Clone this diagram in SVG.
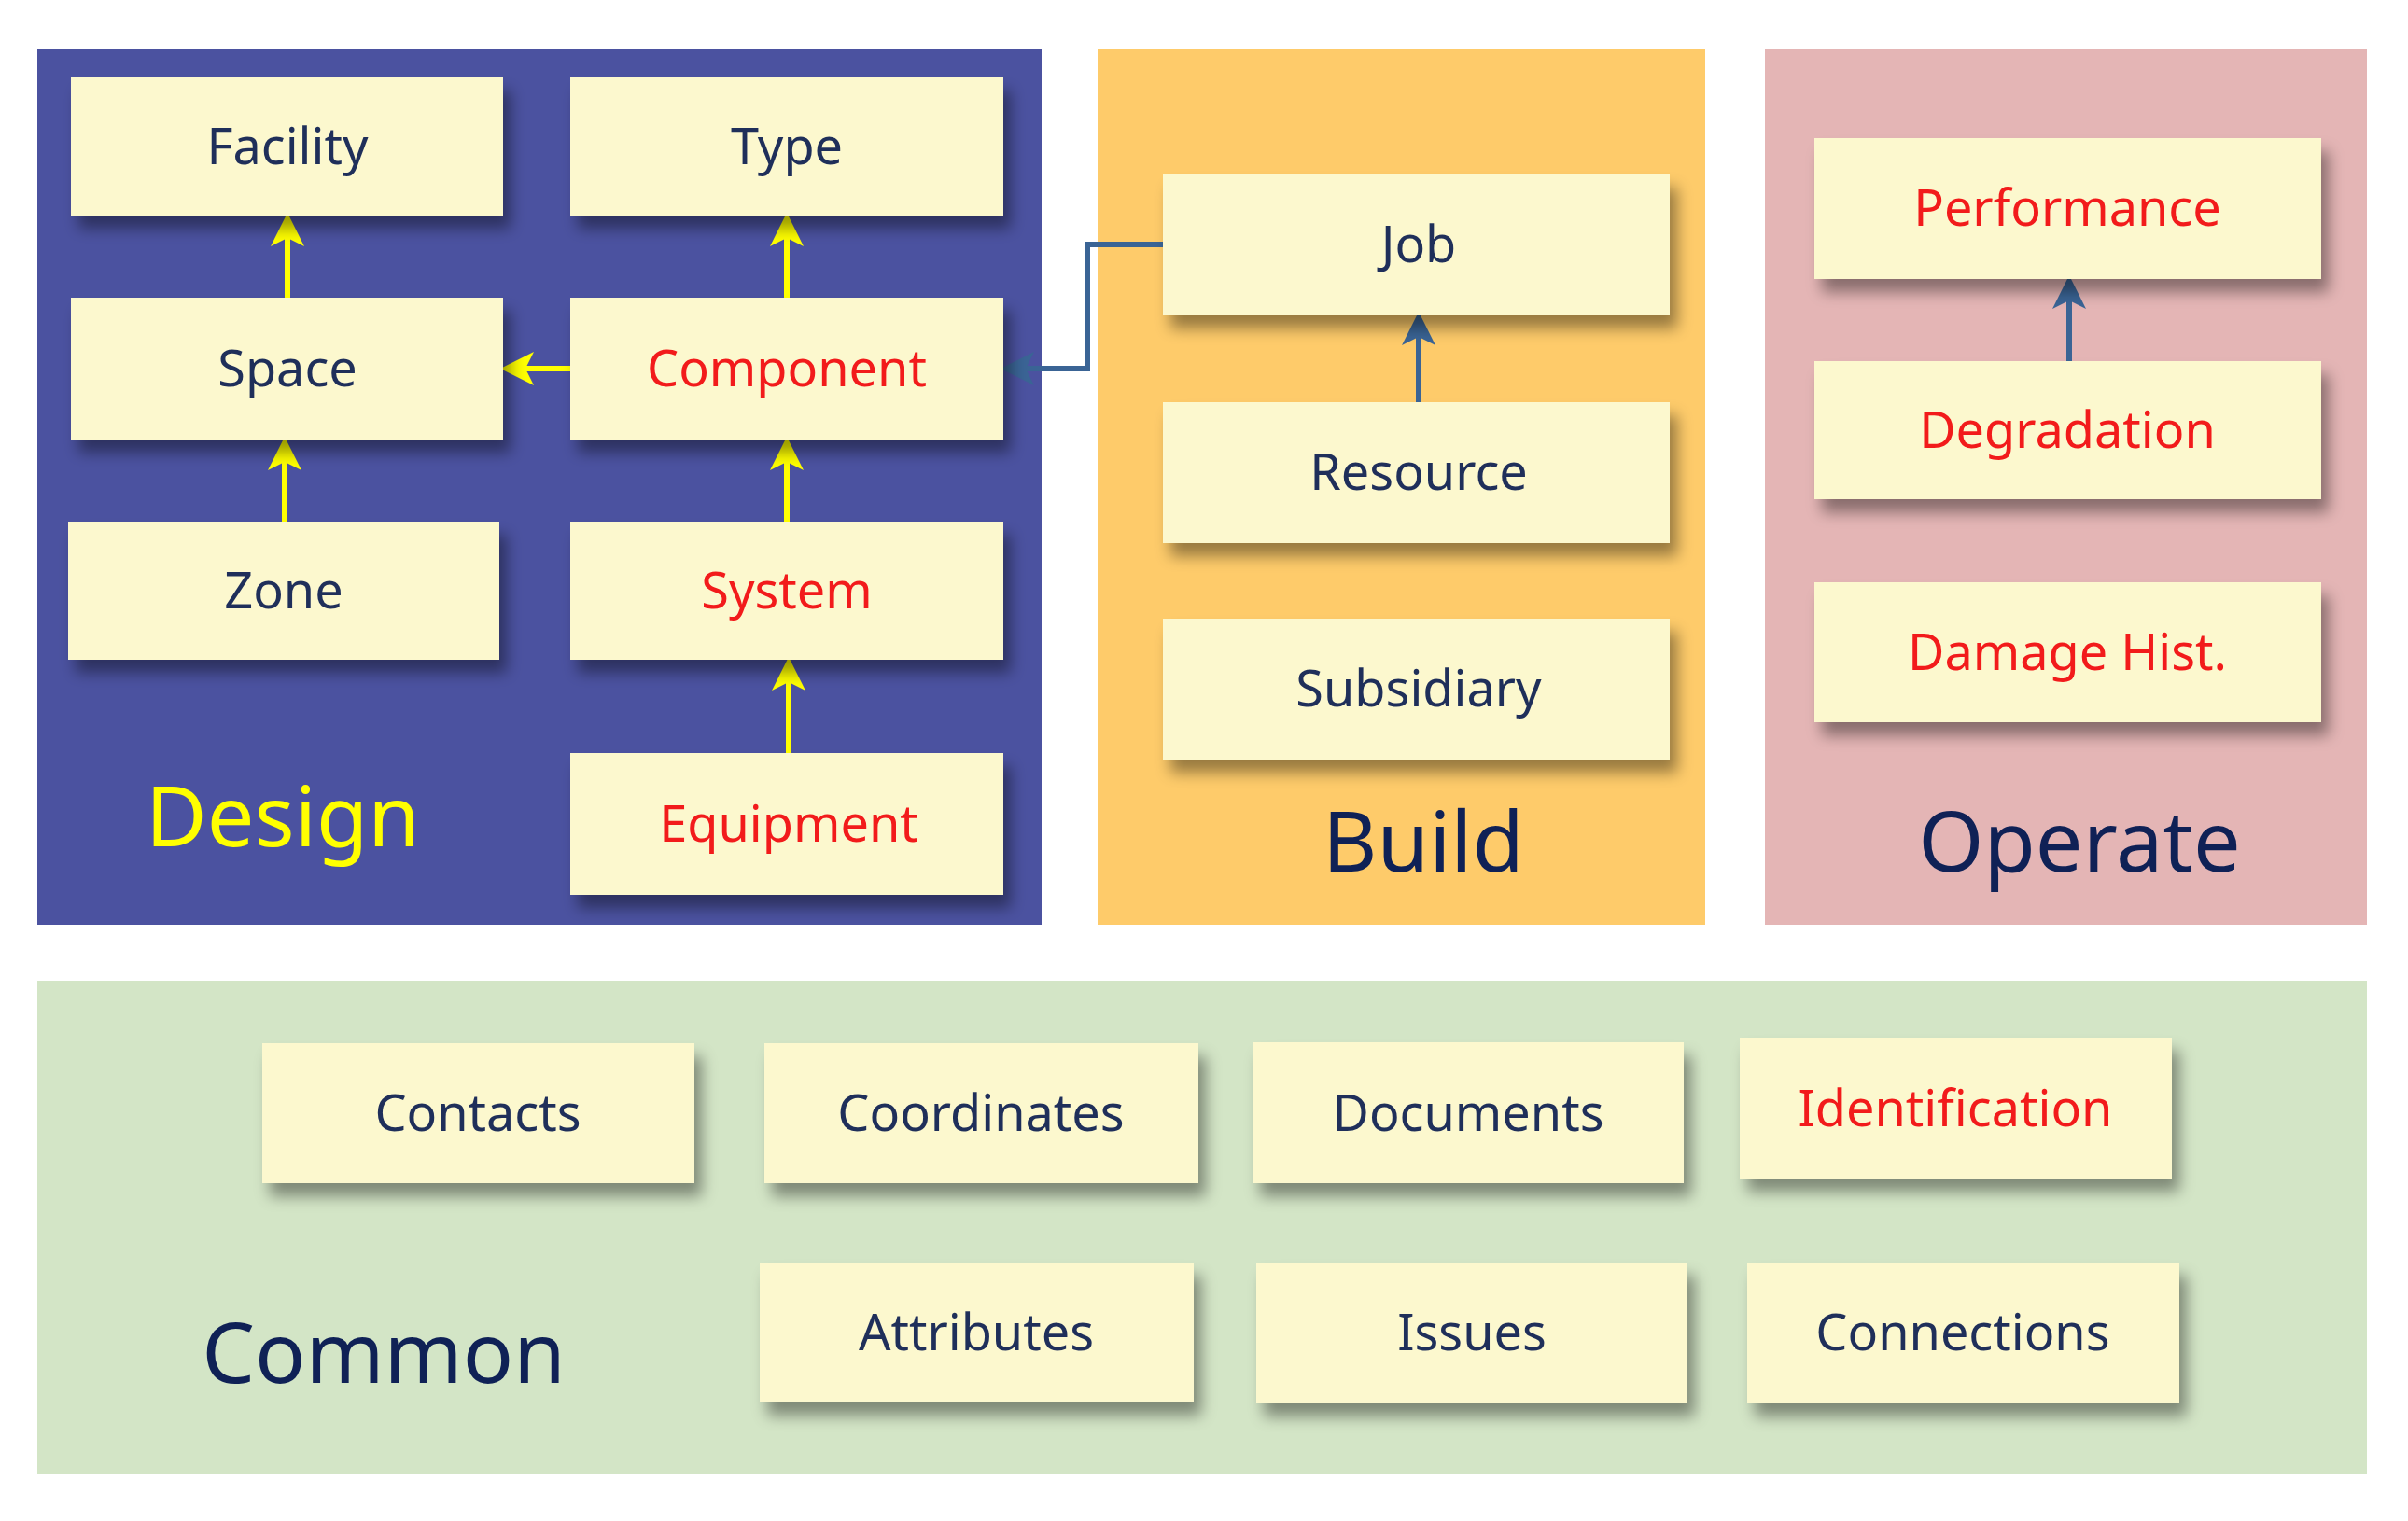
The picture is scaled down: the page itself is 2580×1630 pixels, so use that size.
<svg xmlns="http://www.w3.org/2000/svg" width="2580" height="1630" viewBox="0 0 2580 1630">
<style>
.box{fill:#FCF8CE;filter:url(#sh)}
.t{font-family:"Noto Sans","Open Sans",sans-serif;font-size:54px;text-anchor:middle;fill:#1F2F5A}
.r{fill:#F21B1B}
.big{font-family:"Noto Sans","Open Sans",sans-serif;font-size:90px;fill:#0F2156}
.ya{stroke:#FFFF00;stroke-width:6;fill:none;marker-end:url(#yh)}
.ba{stroke:#3A6495;stroke-width:6;fill:none;marker-end:url(#bh)}
</style>
<defs>
<filter id="sh" x="-10%" y="-20%" width="130%" height="160%"><feDropShadow dx="8" dy="14" stdDeviation="8" flood-color="#000" flood-opacity="0.4"/></filter>
<marker id="yh" markerWidth="6" markerHeight="6" refX="3" refY="3" orient="auto" markerUnits="strokeWidth"><path d="M0,0 L6,3 L0,6 L1.5,3 Z" fill="#FFFF00"/></marker>
<marker id="bh" markerWidth="6" markerHeight="6" refX="3" refY="3" orient="auto" markerUnits="strokeWidth"><path d="M0,0 L6,3 L0,6 L1.5,3 Z" fill="#3A6495"/></marker>
</defs>
<rect width="2580" height="1630" fill="#fff"/>
<g id="panels">
<rect x="40" y="53" width="1076" height="938" fill="#4B52A0"/>
<rect x="1176" y="53" width="651" height="938" fill="#FECB6A"/>
<rect x="1891" y="53" width="645" height="938" fill="#E4B5B5"/>
<rect x="40" y="1051" width="2496" height="529" fill="#D3E5C6"/>
<text class="big" x="303" y="907" text-anchor="middle" fill="#FFFF00" style="fill:#FFFF00">Design</text>
<text class="big" x="1525" y="934" text-anchor="middle">Build</text>
<text class="big" x="2228" y="934" text-anchor="middle">Operate</text>
<text class="big" x="411" y="1482" text-anchor="middle">Common</text>
</g>
<g id="connectors">
<path class="ya" d="M308,319 L308,246"/>
<path class="ya" d="M843,319 L843,246"/>
<path class="ya" d="M611,395 L554,395"/>
<path class="ya" d="M305,559 L305,486"/>
<path class="ya" d="M843,559 L843,486"/>
<path class="ya" d="M845,807 L845,722"/>
<path class="ba" d="M1246,262 L1165,262 L1165,395 L1090,395"/>
<path class="ba" d="M1520,431 L1520,352"/>
<path class="ba" d="M2217,387 L2217,313"/>
</g>
<g id="n-facility"><rect class="box" x="76" y="83" width="463" height="148"/><text class="t" x="308" y="176">Facility</text></g>
<g id="n-type"><rect class="box" x="611" y="83" width="464" height="148"/><text class="t" x="843" y="176">Type</text></g>
<g id="n-space"><rect class="box" x="76" y="319" width="463" height="152"/><text class="t" x="308" y="414">Space</text></g>
<g id="n-component"><rect class="box" x="611" y="319" width="464" height="152"/><text class="t r" x="843" y="414">Component</text></g>
<g id="n-zone"><rect class="box" x="73" y="559" width="462" height="148"/><text class="t" x="304" y="652">Zone</text></g>
<g id="n-system"><rect class="box" x="611" y="559" width="464" height="148"/><text class="t r" x="843" y="652">System</text></g>
<g id="n-equipment"><rect class="box" x="611" y="807" width="464" height="152"/><text class="t r" x="845" y="902">Equipment</text></g>
<g id="n-job"><rect class="box" x="1246" y="187" width="543" height="151"/><text class="t" x="1520" y="281">Job</text></g>
<g id="n-resource"><rect class="box" x="1246" y="431" width="543" height="151"/><text class="t" x="1520" y="525">Resource</text></g>
<g id="n-subsidiary"><rect class="box" x="1246" y="663" width="543" height="151"/><text class="t" x="1520" y="757">Subsidiary</text></g>
<g id="n-performance"><rect class="box" x="1944" y="148" width="543" height="151"/><text class="t r" x="2215" y="242">Performance</text></g>
<g id="n-degradation"><rect class="box" x="1944" y="387" width="543" height="148"/><text class="t r" x="2215" y="480">Degradation</text></g>
<g id="n-damage"><rect class="box" x="1944" y="624" width="543" height="150"/><text class="t r" x="2215" y="718">Damage Hist.</text></g>
<g id="n-contacts"><rect class="box" x="281" y="1118" width="463" height="150"/><text class="t" x="512" y="1212">Contacts</text></g>
<g id="n-coordinates"><rect class="box" x="819" y="1118" width="465" height="150"/><text class="t" x="1051" y="1212">Coordinates</text></g>
<g id="n-documents"><rect class="box" x="1342" y="1117" width="462" height="151"/><text class="t" x="1573" y="1212">Documents</text></g>
<g id="n-identification"><rect class="box" x="1864" y="1112" width="463" height="151"/><text class="t r" x="2095" y="1207">Identification</text></g>
<g id="n-attributes"><rect class="box" x="814" y="1353" width="465" height="150"/><text class="t" x="1046" y="1447">Attributes</text></g>
<g id="n-issues"><rect class="box" x="1346" y="1353" width="462" height="151"/><text class="t" x="1577" y="1447">Issues</text></g>
<g id="n-connections"><rect class="box" x="1872" y="1353" width="463" height="151"/><text class="t" x="2103" y="1447">Connections</text></g>
</svg>
